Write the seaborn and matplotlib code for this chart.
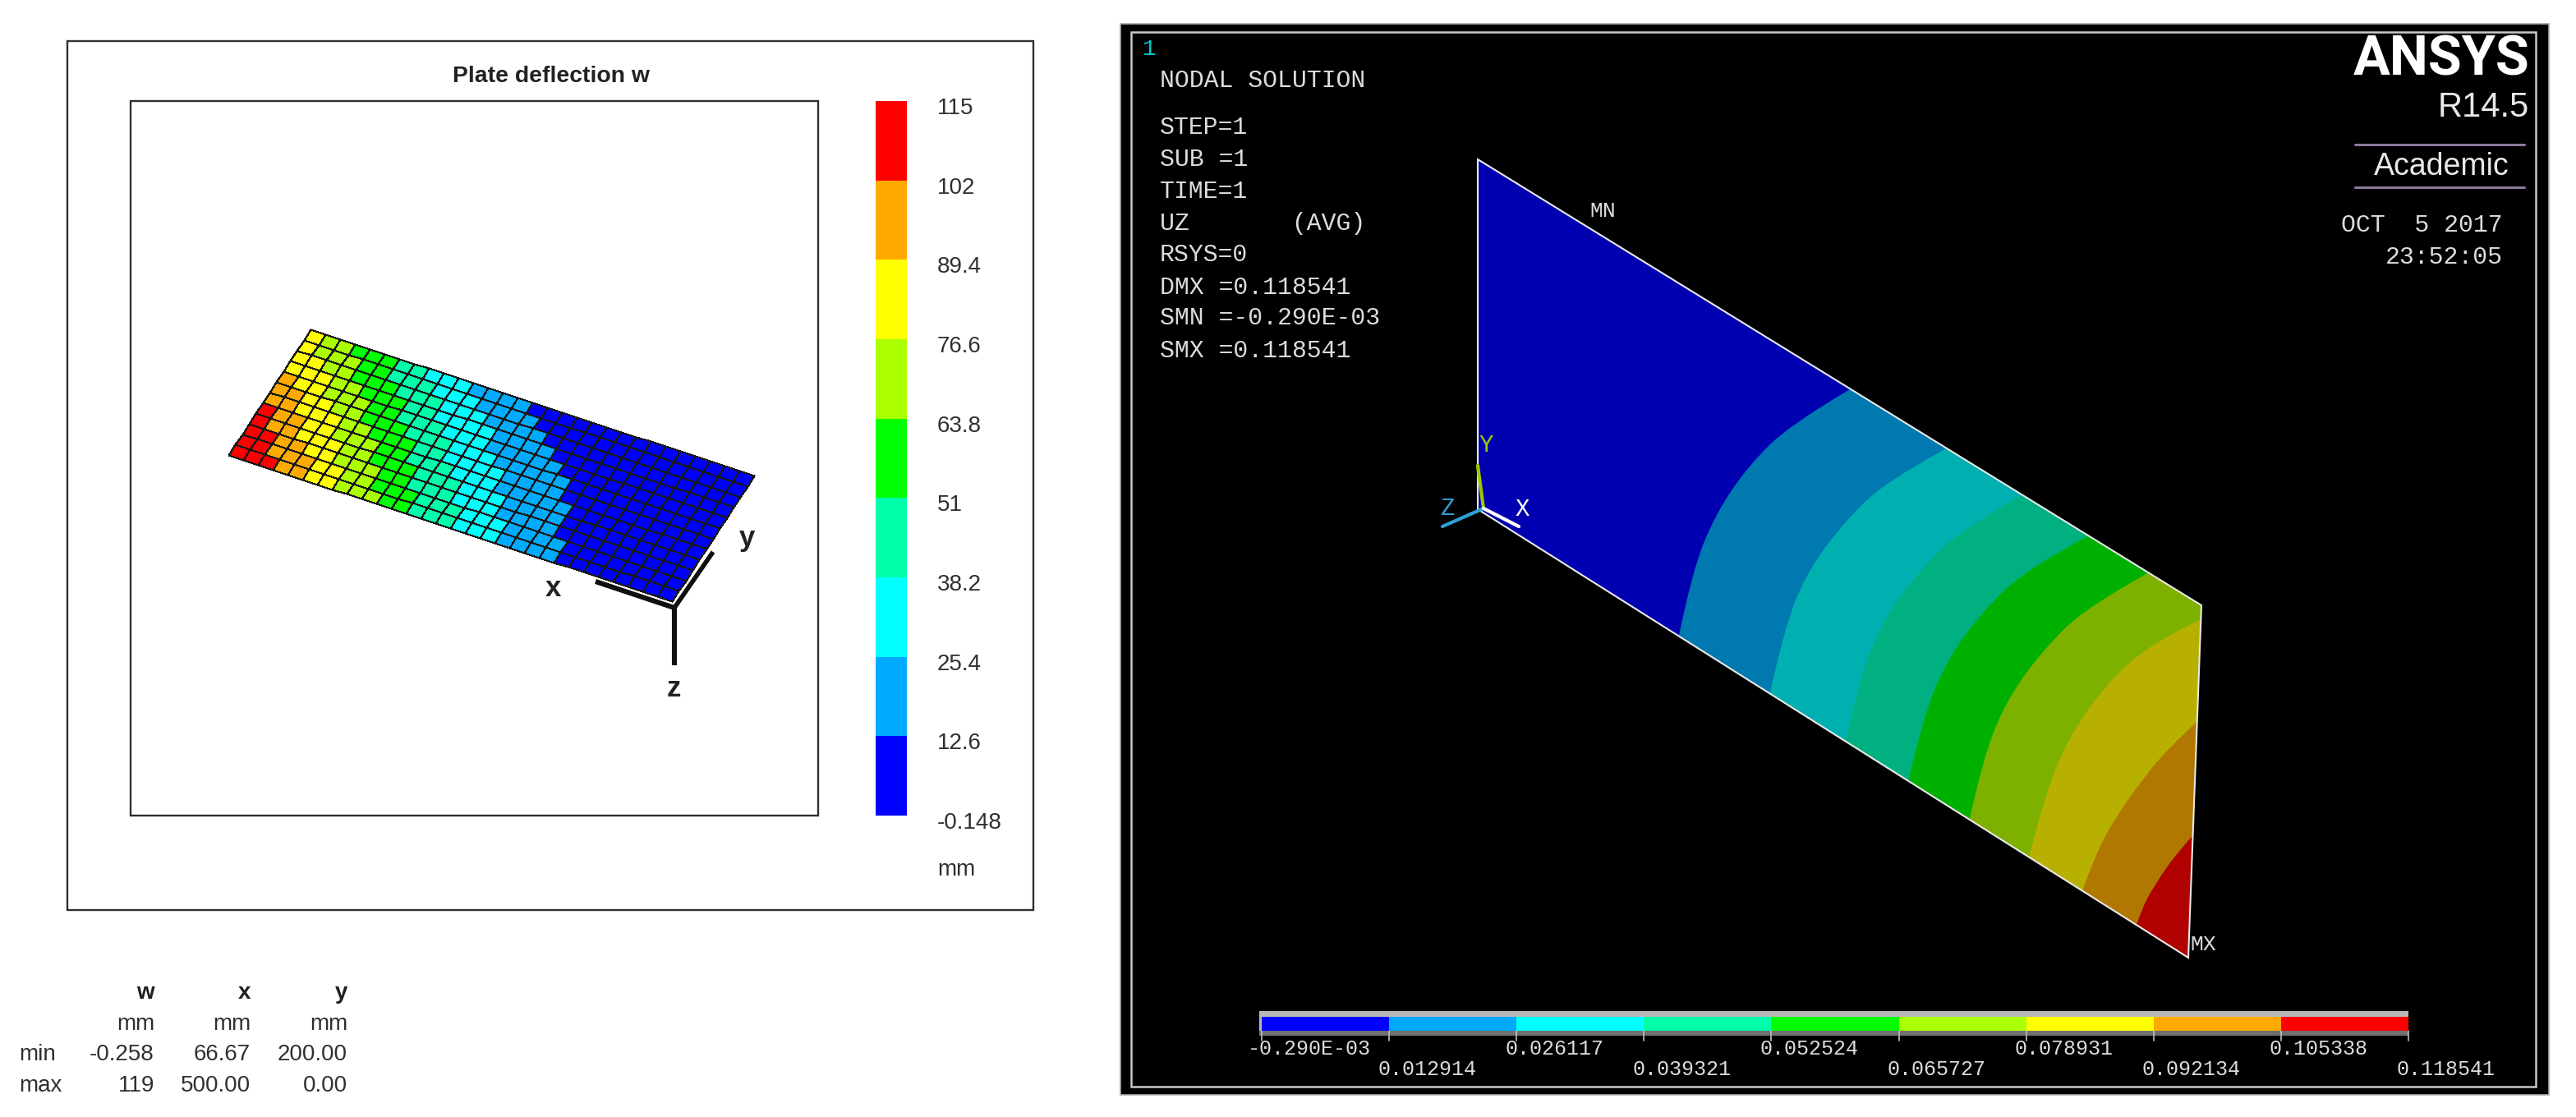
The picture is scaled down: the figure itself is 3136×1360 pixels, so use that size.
import numpy as np
import seaborn as sns
import matplotlib
matplotlib.use("Agg")
import matplotlib.pyplot as plt
from matplotlib.colors import ListedColormap, BoundaryNorm
from matplotlib.patches import Rectangle, Polygon, PathPatch
from matplotlib.path import Path
from matplotlib.transforms import Affine2D

# ---------- data ----------
w_levels = [-0.148, 12.6, 25.4, 38.2, 51, 63.8, 76.6, 89.4, 102, 115]
w_labels = ["-0.148", "12.6", "25.4", "38.2", "51", "63.8", "76.6", "89.4", "102", "115"]
band_colors = ["#0000FF", "#00AAFF", "#00FFFF", "#00FFAA", "#00FF00",
               "#AAFF00", "#FFFF00", "#FFAA00", "#FF0000"]
dark_colors = ["#0000B0", "#0078B0", "#00B0B0", "#00B080", "#00B000",
               "#7EB000", "#B8B000", "#B07800", "#B00000"]

# first grid column of each band for plate rows 0..11 (band 8, red, starts at column 0)
orange_start = [3, 2, 2, 1, 1, 0, 0, 0, 0, 0, 0, 0]
yellow_start = [5, 5, 4, 3, 3, 2, 2, 1, 0, 0, 0, 0]
yelgrn_start = [7, 7, 6, 6, 5, 5, 4, 3, 3, 2, 1, 1]
green_start = [10, 9, 9, 8, 8, 7, 6, 6, 5, 4, 4, 3]
teal_start = [12, 12, 11, 11, 10, 10, 9, 8, 8, 7, 6, 6]
cyan_start = [15, 15, 14, 14, 13, 12, 12, 11, 10, 10, 9, 8]
sky_start = [18, 18, 17, 17, 16, 16, 15, 14, 14, 13, 12, 11]
blue_start = [22, 22, 21, 21, 21, 20, 20, 19, 18, 17, 16, 15]
n_cols = 30

table_heads = ["w", "x", "y"]
table_units = ["mm", "mm", "mm"]
table_min = ["-0.258", "66.67", "200.00"]
table_max = ["119", "500.00", "0.00"]

# ANSYS contour boundaries: width station t -> fraction u along plate length
t_full = [0, 0.2, 0.4, 0.6, 0.8, 1.0]
ansys_edges = [
    (t_full, [0.283, 0.300, 0.330, 0.375, 0.435, 0.515]),
    (t_full, [0.411, 0.429, 0.458, 0.506, 0.565, 0.648]),
    (t_full, [0.518, 0.535, 0.565, 0.612, 0.671, 0.753]),
    (t_full, [0.606, 0.624, 0.654, 0.701, 0.761, 0.844]),
    (t_full, [0.692, 0.709, 0.739, 0.786, 0.845, 0.927]),
    ([0, 0.2, 0.4, 0.6, 0.8, 0.96], [0.776, 0.795, 0.825, 0.870, 0.930, 1.0]),
    ([0, 0.13, 0.27, 0.40, 0.54, 0.67], [0.851, 0.868, 0.895, 0.925, 0.960, 1.0]),
    ([0, 0.07, 0.14, 0.21, 0.28, 0.347], [0.927, 0.936, 0.950, 0.965, 0.982, 1.0]),
]
ansys_top = ["-0.290E-03", "0.026117", "0.052524", "0.078931", "0.105338"]
ansys_bot = ["0.012914", "0.039321", "0.065727", "0.092134", "0.118541"]
ansys_info = ["STEP=1", "SUB =1", "TIME=1", "UZ       (AVG)", "RSYS=0",
              "DMX =0.118541", "SMN =-0.290E-03", "SMX =0.118541"]

# ---------- figure ----------
W, H = 3136, 1360
sns.set_theme(style="white")
plt.rcParams["font.family"] = ["Liberation Sans", "DejaVu Sans"]
fig = plt.figure(figsize=(W / 100, H / 100), dpi=100, facecolor="white")


def axes_px(x0, y0, x1, y1, **kw):
    return fig.add_axes([x0 / W, 1 - y1 / H, (x1 - x0) / W, (y1 - y0) / H], **kw)


px = axes_px(0, 0, W, H)
px.set_xlim(0, W)
px.set_ylim(H, 0)
px.axis("off")
px.patch.set_alpha(0)

# ---------- left panel ----------
px.add_patch(Rectangle((82, 50), 1176, 1058, fc="none", ec="#303030", lw=1.7))
px.add_patch(Rectangle((159, 123), 837, 870, fc="none", ec="#303030", lw=1.7))
px.text(671, 93, "Plate deflection w", ha="center", va="center",
        fontsize=20.4, fontweight="bold", color="#222222")

mids = [(a + b) / 2 for a, b in zip(w_levels[:-1], w_levels[1:])]
cmap = ListedColormap(band_colors)
norm = BoundaryNorm(w_levels, cmap.N)

# plate grid
starts = [orange_start, yellow_start, yelgrn_start, green_start, teal_start,
          cyan_start, sky_start, blue_start]
cells = np.zeros((12, n_cols))
for r in range(12):
    edges = [0] + [s[r] for s in starts] + [n_cols]
    for k in range(9):
        cells[r, edges[k]:edges[k + 1]] = mids[8 - k]

Lc, Bc, Tc = (278, 554), (818, 732), (378, 401)
sns.heatmap(cells, ax=px, cmap=cmap, norm=norm, cbar=False, linewidths=0.8,
            linecolor="#181818", xticklabels=False, yticklabels=False)
skew = Affine2D.from_values((Bc[0] - Lc[0]) / n_cols, (Bc[1] - Lc[1]) / n_cols,
                            (Tc[0] - Lc[0]) / 12, (Tc[1] - Lc[1]) / 12, Lc[0], Lc[1])
px.collections[-1].set_transform(skew + px.transData)
px.set_aspect("auto")
px.set_xlim(0, W)
px.set_ylim(H, 0)
px.axis("off")

# triad
px.plot([821, 821], [740, 810], color="#101010", lw=4.4, solid_capstyle="butt")
px.plot([725, 821], [708, 740], color="#101010", lw=4.4, solid_capstyle="butt")
px.plot([821, 868], [740, 672], color="#101010", lw=4.0, solid_capstyle="butt")
for s, x, y in [("x", 673, 716), ("y", 909, 655), ("z", 820, 839)]:
    px.text(x, y, s, ha="center", va="center", fontsize=25, fontweight="bold", color="#222222")

# colour bar
cb = axes_px(1066, 123, 1104, 993)
sns.heatmap(np.array(mids[::-1]).reshape(-1, 1), ax=cb, cmap=cmap, norm=norm, cbar=False,
            xticklabels=False, yticklabels=False)
cb.axis("off")
for k, lab in enumerate(w_labels):
    y = 993 - k * (993 - 123) / 9 + 9
    px.text(1141, y, lab, ha="left", va="center", fontsize=20, color="#303030")
px.text(1141, 1059, "mm", ha="left", va="center", fontsize=20, color="#303030")

# table
col_x = [188, 305, 423]
rows_y = [1209, 1247, 1284, 1322]
for x, head, unit, lo, hi in zip(col_x, table_heads, table_units, table_min, table_max):
    px.text(x, rows_y[0], head, ha="right", va="center", fontsize=20, fontweight="bold", color="#202020")
    for y, s in zip(rows_y[1:], (unit, lo, hi)):
        px.text(x, y, s, ha="right", va="center", fontsize=20, color="#303030")
px.text(23, rows_y[2], "min", ha="left", va="center", fontsize=20, color="#303030")
px.text(23, rows_y[3], "max", ha="left", va="center", fontsize=20, color="#303030")

# ---------- right panel ----------
px.add_patch(Rectangle((1364, 29), 1739, 1304, fc="black", ec="#A8A8A8", lw=1.2, zorder=1))
px.add_patch(Rectangle((1377, 39), 1710, 1284, fc="none", ec="#C8C8C8", lw=1.8, zorder=1.1))

TL, BL, TR, BR = map(np.array, [(1799, 194), (1799, 620), (2680, 737), (2664, 1166)])


def plate(u, t):
    u, t = np.asarray(u, float)[..., None], np.asarray(t, float)[..., None]
    return (1 - t) * (BL + u * (BR - BL)) + t * (TL + u * (TR - TL))


def band_path(ts, us):
    """Region from a contour boundary to the u = 1 end; quadratic segments smooth the boundary."""
    p = plate(us, ts)
    verts, codes = [p[0]], [Path.MOVETO]
    for i in range(1, len(p) - 1):
        end = p[i + 1] if i == len(p) - 2 else (p[i] + p[i + 1]) / 2
        verts += [p[i], end]
        codes += [Path.CURVE3, Path.CURVE3]
    for c in plate([1, 1], [ts[-1], 0]):
        verts.append(c)
        codes.append(Path.LINETO)
    verts.append(p[0])
    codes.append(Path.CLOSEPOLY)
    return Path(verts, codes)


px.add_patch(Polygon([TL, TR, BR, BL], fc=dark_colors[0], ec="none", zorder=2))
for k, (ts, us) in enumerate(ansys_edges):
    px.add_patch(PathPatch(band_path(ts, us), fc=dark_colors[k + 1], ec="none", zorder=2 + k * 0.01))
px.add_patch(Polygon([TL, TR, BR, BL], fc="none", ec="#E8E8E8", lw=1.5, zorder=3))

# triad
org = (1806, 619)
for end, c in [((1799, 567), "#A0C800"), ((1756, 641), "#30A0D8"), ((1849, 641), "white")]:
    px.plot([org[0], end[0]], [org[1], end[1]], color=c, lw=3, zorder=4)

mono = ["Liberation Mono", "DejaVu Sans Mono"]
tc = "#DCDCDC"
px.text(1399, 60, "1", color="#00C8C8", family=mono, fontsize=20, ha="center", va="center", zorder=5)
px.text(1412, 98, "NODAL SOLUTION", color=tc, family=mono, fontsize=21.5, va="center", zorder=5)
for s, y in zip(ansys_info, [155, 194, 233, 272, 310, 350, 387, 427]):
    px.text(1412, y, s, color=tc, family=mono, fontsize=21.5, va="center", zorder=5)
px.text(1951, 257, "MN", color=tc, family=mono, fontsize=19, ha="center", va="center", zorder=5)
px.text(2682, 1150, "MX", color=tc, family=mono, fontsize=19, ha="center", va="center", zorder=5)
px.text(1853, 620, "X", color="white", family=mono, fontsize=21, ha="center", va="center", zorder=5)
px.text(1809, 542, "Y", color="#A0C800", family=mono, fontsize=21, ha="center", va="center", zorder=5)
px.text(1763, 619, "Z", color="#30A0D8", family=mono, fontsize=21, ha="center", va="center", zorder=5)

px.text(3079, 73, "ANSYS", color="white", family=["Roboto", "Liberation Sans"], fontweight="bold",
        fontsize=48, ha="right", va="center", zorder=5)
px.text(3079, 131, "R14.5", color="#E8E8E8", fontsize=30, ha="right", va="center", zorder=5)
px.text(2972, 203, "Academic", color="#E8E8E8", fontsize=27, ha="center", va="center", zorder=5)
for y in (176, 228):
    px.plot([2867, 3073], [y, y], color="#8A7A9A", lw=2.2, zorder=5)
px.text(3047, 274, "OCT  5 2017", color=tc, family=mono, fontsize=21.5, ha="right", va="center", zorder=5)
px.text(3047, 313, "23:52:05", color=tc, family=mono, fontsize=21.5, ha="right", va="center", zorder=5)

# ANSYS colour bar
x0, x1 = 1536, 2932
px.add_patch(Rectangle((1533, 1231), 1399, 30, fc="#B8B8B8", ec="none", zorder=4))
px.add_patch(Rectangle((1533, 1255), 1399, 6, fc="#707070", ec="none", zorder=4.1))
rb = axes_px(x0, 1238, x1, 1255)
sns.heatmap(np.array(mids).reshape(1, -1), ax=rb, cmap=cmap, norm=norm, cbar=False,
            xticklabels=False, yticklabels=False)
rb.axis("off")
tick_x = np.linspace(x0, x1, 10)
for x in tick_x:
    px.plot([x, x], [1255, 1267], color="#C0C0C0", lw=1.2, zorder=5)
px.text(tick_x[0] - 17, 1277, ansys_top[0], color=tc, family=mono, fontsize=18, va="center", zorder=5)
for x, s in zip(tick_x[2::2], ansys_top[1:]):
    px.text(x - 14, 1277, s, color=tc, family=mono, fontsize=18, va="center", zorder=5)
for x, s in zip(tick_x[1::2], ansys_bot):
    px.text(x - 14, 1302, s, color=tc, family=mono, fontsize=18, va="center", zorder=5)

fig.savefig("out.png", dpi=100, facecolor="white")
